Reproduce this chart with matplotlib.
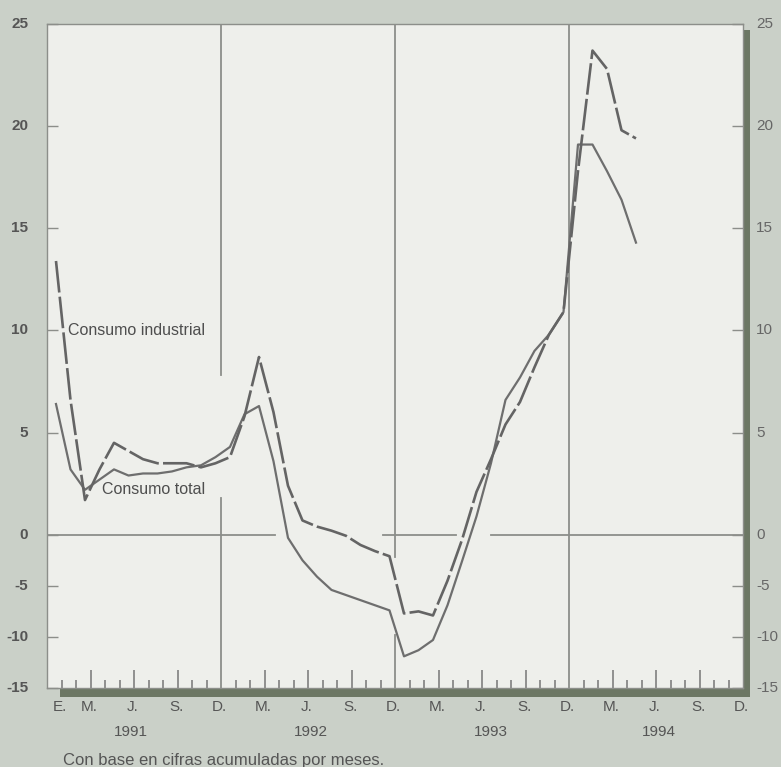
import numpy as np
import matplotlib
matplotlib.use('Agg')
import matplotlib.pyplot as plt
from matplotlib.patches import Rectangle

# monthly data, Jan 1991 .. May 1994 (% change)
industrial = [13.4, 6.6, 1.7, 3.2, 4.5, 4.1, 3.7, 3.5, 3.5, 3.5, 3.3, 3.5,
              3.8, 5.8, 8.7, 6.0, 2.4, 0.7, 0.4, 0.2, -0.1, -1.0, -1.6, -2.1,
              -7.7, -7.5, -7.9, -4.5, -0.5, 2.1, 3.7, 5.4, 6.5, 8.2, 9.8, 10.9,
              17.8, 23.7, 22.8, 19.8, 19.4]
total = [6.4, 3.2, 2.2, 2.7, 3.2, 2.9, 3.0, 3.0, 3.1, 3.3, 3.4, 3.8,
         4.3, 5.9, 6.3, 3.6, -0.3, -2.5, -4.1, -5.4, -5.9, -6.4, -6.9, -7.4,
         -11.9, -11.3, -10.3, -6.9, -2.6, 0.9, 3.5, 6.6, 7.7, 9.0, 9.8, 10.9,
         19.1, 19.1, 17.8, 16.4, 14.3]
month_labels = ['E.', 'M.', 'J.', 'S.', 'D.'] + ['M.', 'J.', 'S.', 'D.'] * 3
month_label_pos = [1, 3, 6, 9, 12, 15, 18, 21, 24, 27, 30, 33, 36, 39, 42, 45, 48]
years = ['1991', '1992', '1993', '1994']
y_ticks = [-15, -10, -5, 0, 5, 10, 15, 20, 25]

W, H = 781, 767
fig = plt.figure(figsize=(W / 100, H / 100), dpi=100)
fig.patch.set_facecolor('#cad0c8')
plt.rcParams['font.family'] = ['Liberation Sans', 'DejaVu Sans']

L, R, T, B = 47, 743, 24, 688


def fx(px):
    return px / W


def fy(py):
    return 1 - py / H


# drop shadow behind the plot area
shadow = Rectangle((fx(60), fy(697)), fx(750 - 60), fy(30) - fy(697),
                   transform=fig.transFigure, facecolor='#6c7764',
                   edgecolor='none', zorder=-5)
fig.patches.append(shadow)

ax = fig.add_axes([fx(L), fy(B), fx(R - L), fy(T) - fy(B)])
ax.set_zorder(2)
ax.set_facecolor('#eeefeb')


# negative side of the scale is compressed to half
def fwd(y):
    y = np.asarray(y, dtype=float)
    return np.where(y >= 0, y, y / 2)


def inv(y):
    y = np.asarray(y, dtype=float)
    return np.where(y >= 0, y, y * 2)


ax.set_yscale('function', functions=(fwd, inv))
ax.set_ylim(-15, 25)
ax.set_xlim(0, 48)

x = np.arange(len(total)) + 0.62

grid_c = '#8c8e8a'
# interrupted grid lines
for x0, x1 in [(0, 15.7), (23.2, 28.2), (30.6, 48)]:
    ax.plot([x0, x1], [0, 0], color=grid_c, lw=1.3, zorder=1)
for xv, segs in [(12, [(25, 7.8), (1.8, -15)]), (24, [(25, -2.2), (-9.8, -15)]),
                 (36, [(25, -15)])]:
    for y0, y1 in segs:
        ax.plot([xv, xv], [y0, y1], color=grid_c, lw=1.3, zorder=1)

ax.plot(x, total, color='#6e6e6e', lw=1.6, zorder=3)
ax.plot(x, industrial, color='#646464', lw=1.9, linestyle=(0, (12, 1.6)), zorder=4)

ax.text(1.45, 10.0, 'Consumo industrial', fontsize=11.5, color='#4e4e4e',
        va='center', ha='left')
ax.text(3.8, 2.2, 'Consumo total', fontsize=11.5, color='#4e4e4e',
        va='center', ha='left')

for s in ax.spines.values():
    s.set_color('#8c8e8a')
    s.set_linewidth(1.0)

# y ticks on both sides, labels written as text
ax.set_yticks(y_ticks)
ax.set_yticklabels([])
ax.tick_params(axis='y', which='major', direction='in', length=8, width=1.0,
               color='#8c8e8a', left=True, right=True)
ax.tick_params(axis='y', which='minor', left=False, right=False)
ytr = ax.get_yaxis_transform()
for v in y_ticks:
    ax.text(-0.027, v, str(v), transform=ytr, ha='right', va='center',
            fontsize=11, fontweight='bold', color='#555555', clip_on=False)
    ax.text(1.019, v, str(v), transform=ytr, ha='left', va='center',
            fontsize=11, color='#666666', clip_on=False)

# month ticks along the bottom
tall = [t for t in range(1, 48) if t % 12 in (3, 6, 9)]
small = [t for t in range(1, 48) if t % 12 not in (0, 3, 6, 9)]
ax.set_xticks(tall)
ax.set_xticks(small, minor=True)
ax.tick_params(axis='x', which='major', direction='in', length=13, width=1.2,
               color='#808080', labelbottom=False)
ax.tick_params(axis='x', which='minor', direction='in', length=6, width=1.2,
               color='#808080', labelbottom=False)

tr = ax.get_xaxis_transform()
for pos, lab in zip(month_label_pos, month_labels):
    ax.text(pos - 0.1, -0.018, lab, transform=tr, ha='center', va='top',
            fontsize=11, color='#555555', clip_on=False)
for pos, lab in zip([5.8, 18.2, 30.6, 42.2], years):
    ax.text(pos, -0.055, lab, transform=tr, ha='center', va='top',
            fontsize=11, color='#555555', clip_on=False)

fig.text(fx(63), fy(760), 'Con base en cifras acumuladas por meses.',
         fontsize=12, color='#555555', ha='left', va='center')

fig.savefig('out.png', dpi=100, facecolor=fig.get_facecolor())
